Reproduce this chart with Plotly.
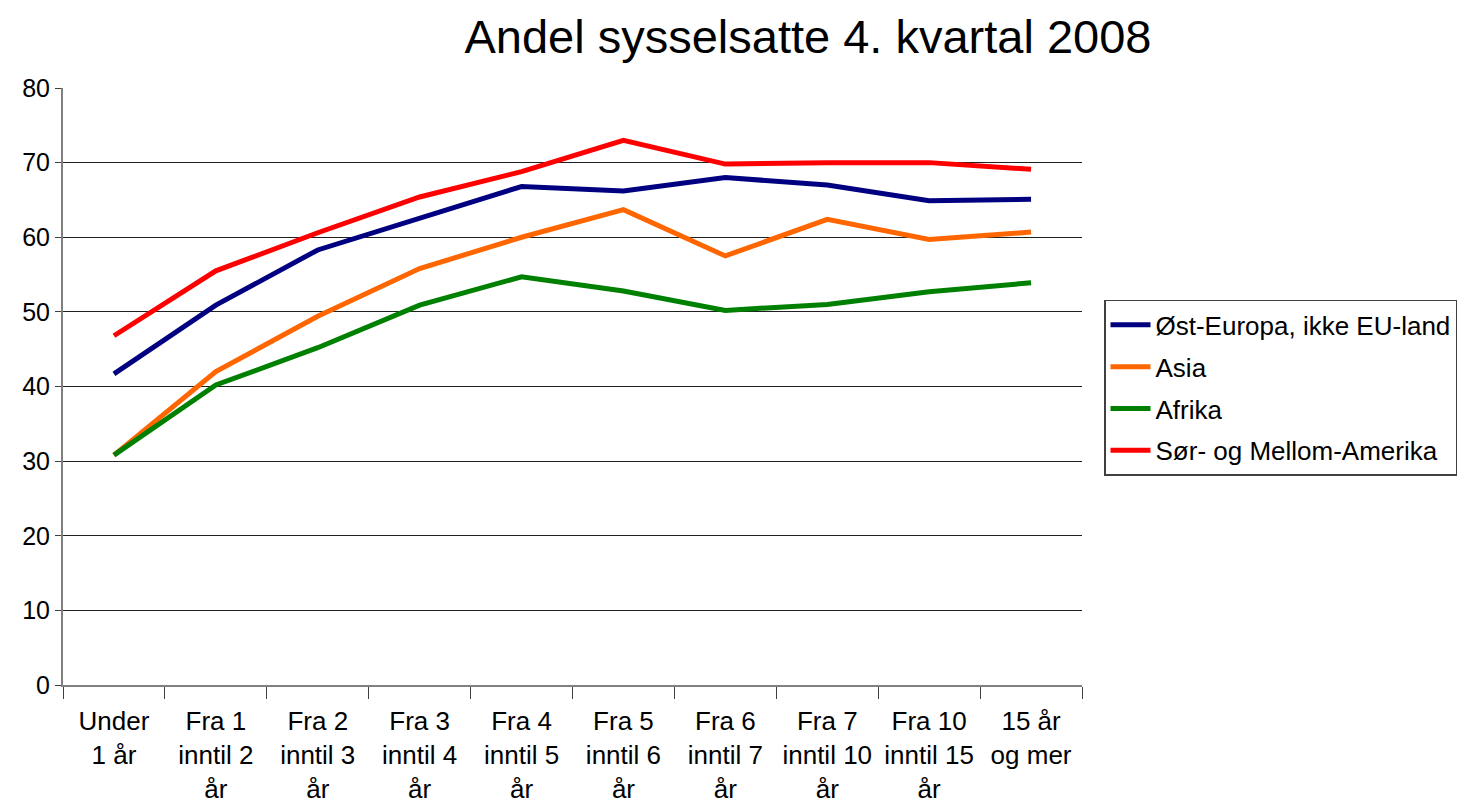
import plotly.graph_objects as go

CATEGORIES = [
    "Under<br>1 år",
    "Fra 1<br>inntil 2<br>år",
    "Fra 2<br>inntil 3<br>år",
    "Fra 3<br>inntil 4<br>år",
    "Fra 4<br>inntil 5<br>år",
    "Fra 5<br>inntil 6<br>år",
    "Fra 6<br>inntil 7<br>år",
    "Fra 7<br>inntil 10<br>år",
    "Fra 10<br>inntil 15<br>år",
    "15 år<br>og mer",
]

OST_EUROPA = [41.7, 50.9, 58.3, 62.6, 66.8, 66.2, 68.0, 67.0, 64.9, 65.1]
ASIA = [30.8, 42.0, 49.4, 55.8, 60.0, 63.7, 57.5, 62.4, 59.7, 60.7]
AFRIKA = [30.8, 40.2, 45.2, 50.9, 54.7, 52.8, 50.2, 51.0, 52.7, 53.9]
SOR_AMERIKA = [46.8, 55.5, 60.6, 65.4, 68.8, 73.0, 69.8, 70.0, 70.0, 69.1]

SERIES = [
    ("Øst-Europa, ikke EU-land", OST_EUROPA, "#000080"),
    ("Asia", ASIA, "#FF6600"),
    ("Afrika", AFRIKA, "#008000"),
    ("Sør- og Mellom-Amerika", SOR_AMERIKA, "#FF0000"),
]

fig = go.Figure()
for name, values, color in SERIES:
    fig.add_trace(go.Scatter(
        x=CATEGORIES,
        y=values,
        mode="lines",
        name=name,
        legendgroup=name,
        line=dict(color=color, width=5),
    ))

# page body has an 8px margin, so the figure is a bit smaller than the window
fig.update_layout(
    width=1467,
    height=796,
    plot_bgcolor="white",
    paper_bgcolor="white",
    font=dict(family="Liberation Sans, Arial", size=25, color="black"),
    title=dict(
        text="Andel sysselsatte 4. kvartal 2008",
        font=dict(size=47, color="black"),
        x=0.5453, xanchor="center",
        y=0.964, yanchor="middle",
    ),
    margin=dict(l=55, r=393, t=80, b=119),
    showlegend=True,
    legend=dict(
        x=1.0216, xanchor="left",
        y=0.645, yanchor="top",
        bordercolor="#404040",
        borderwidth=1.5,
        bgcolor="white",
        font=dict(size=26),
        tracegroupgap=5,
        itemwidth=40,
    ),
)

fig.update_xaxes(
    type="category",
    tickson="boundaries",
    ticks="outside",
    ticklen=12,
    tickcolor="#404040",
    tickfont=dict(size=26),
    ticklabelstandoff=12,
    showgrid=False,
    showline=True,
    linecolor="#808080",
    linewidth=2,
    range=[-0.5, 9.5],
    automargin=False,
)
fig.update_yaxes(
    range=[0, 80],
    dtick=10,
    ticks="outside",
    ticklen=6,
    tickcolor="#404040",
    tickfont=dict(size=25),
    showgrid=True,
    gridcolor="#202020",
    gridwidth=1,
    zeroline=False,
    showline=True,
    linecolor="#808080",
    linewidth=2,
    automargin=False,
)

fig.write_html("out.html")
